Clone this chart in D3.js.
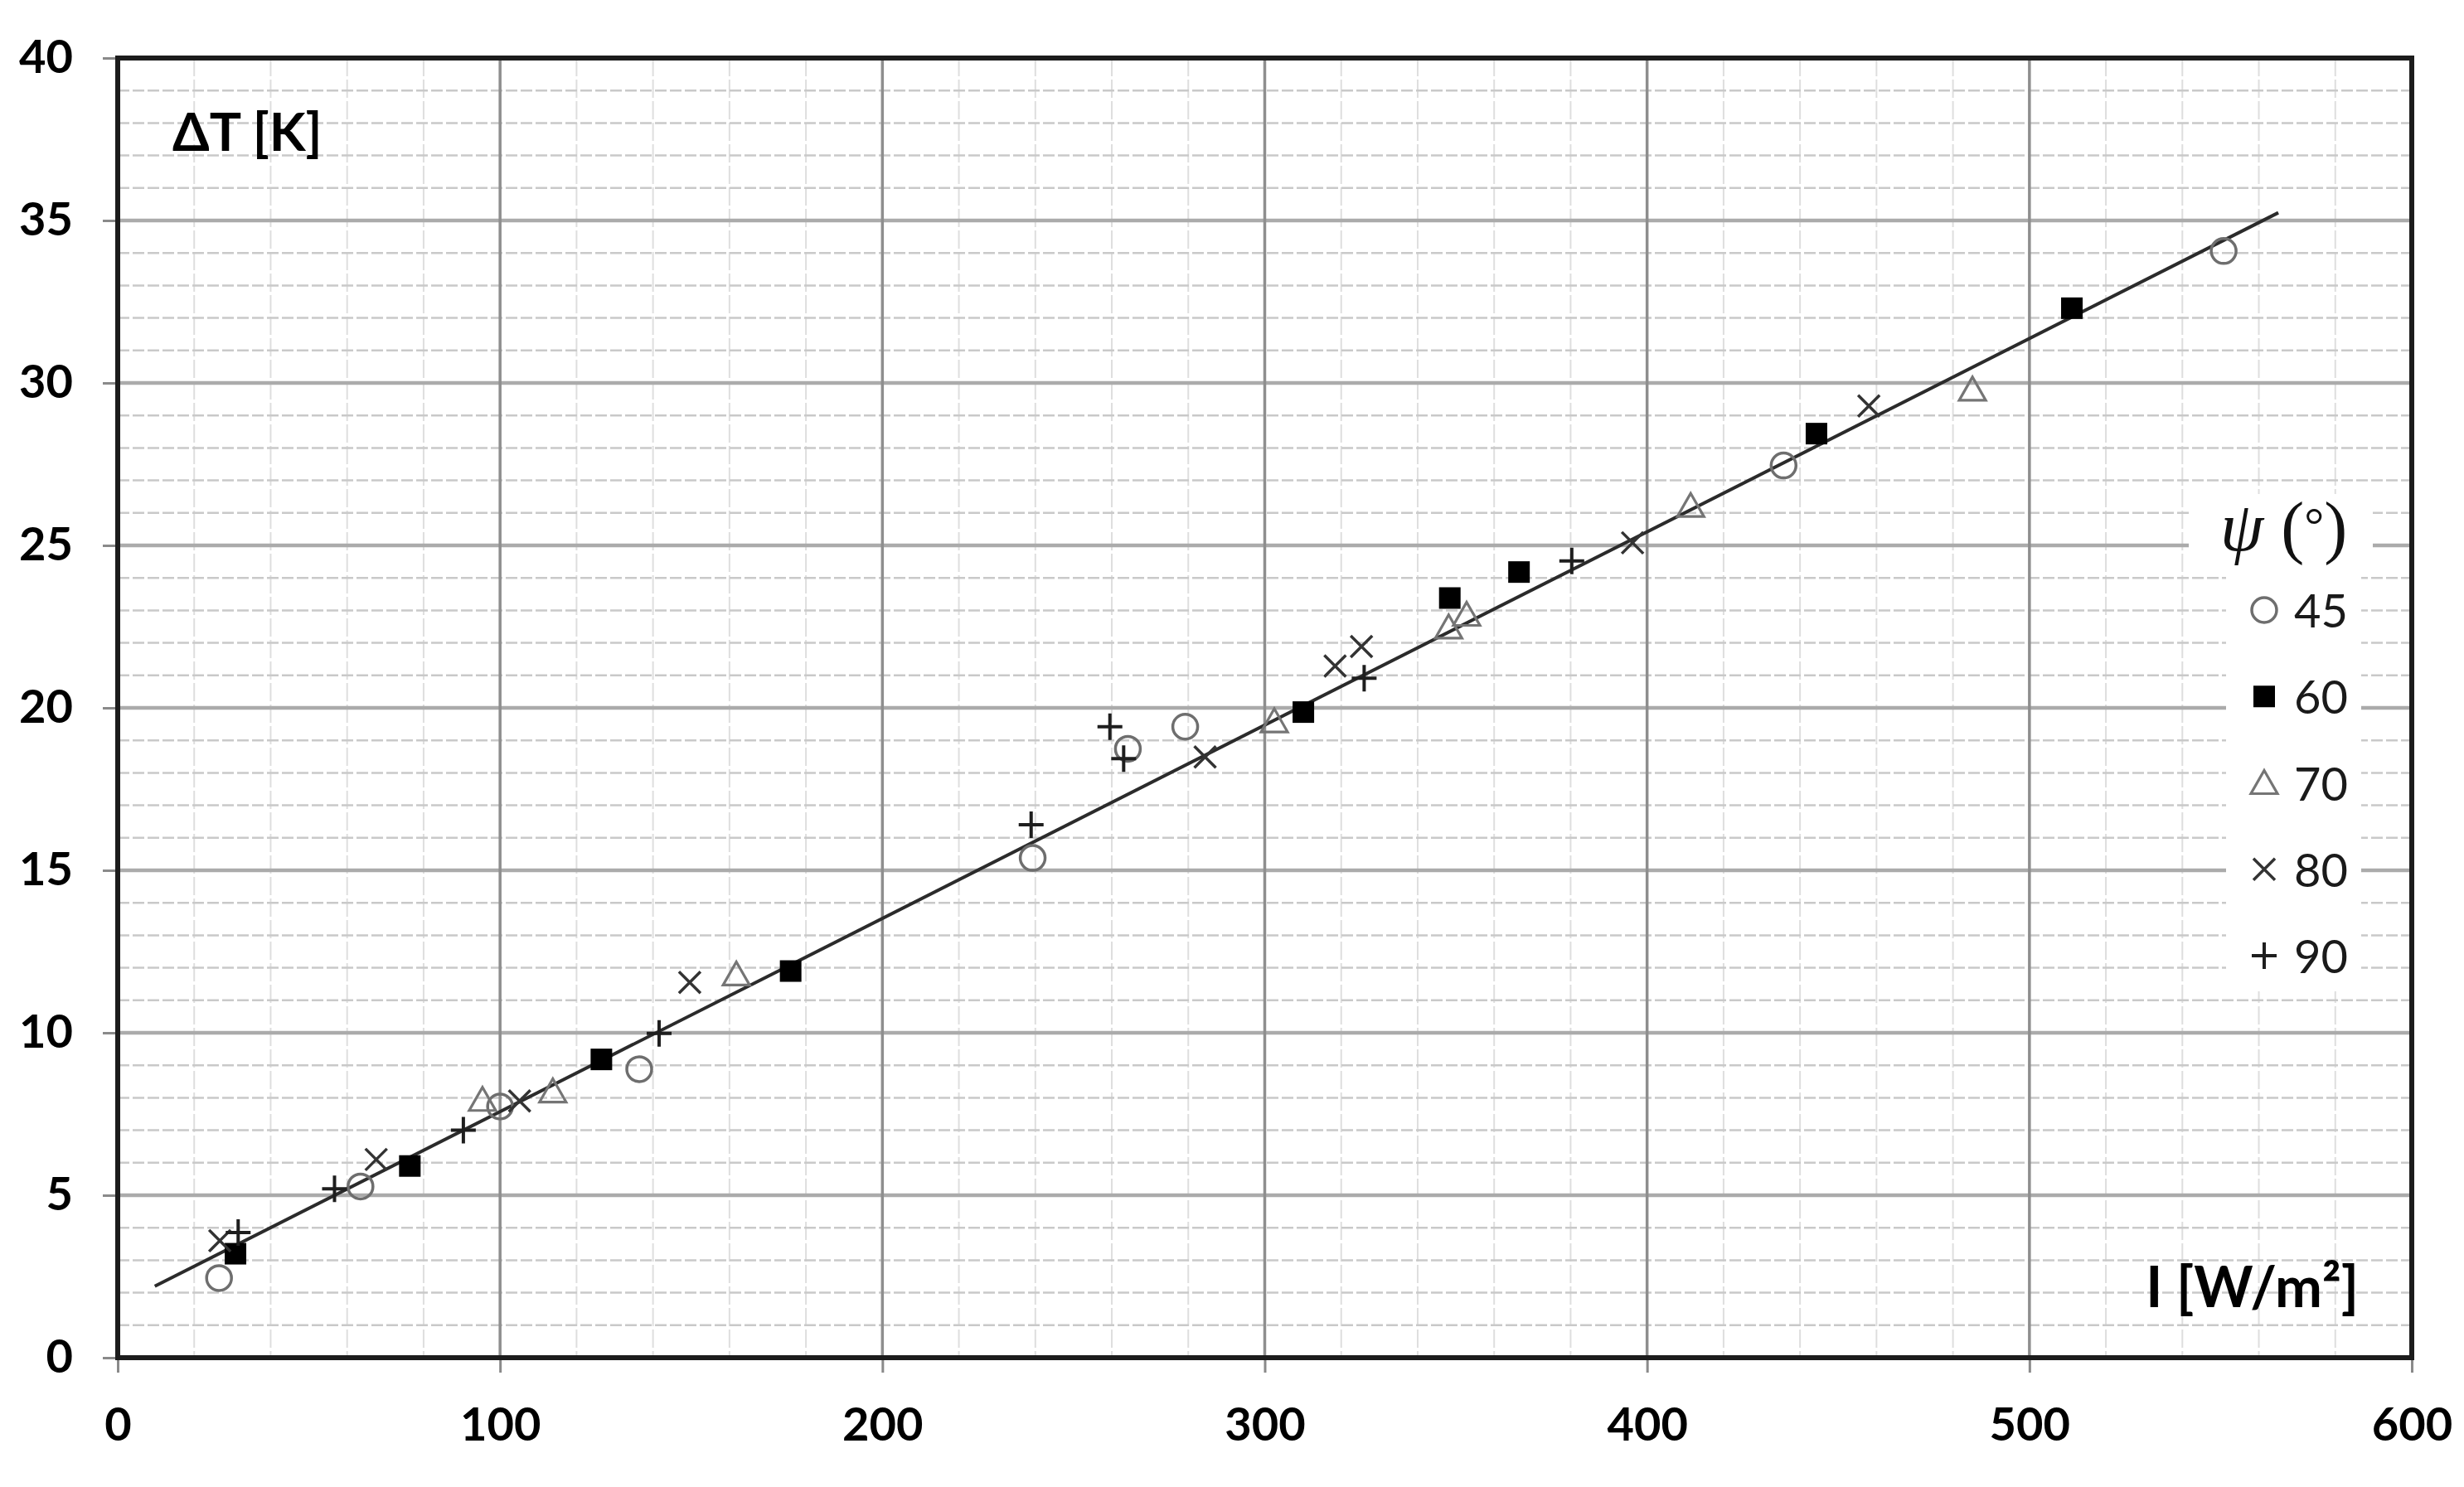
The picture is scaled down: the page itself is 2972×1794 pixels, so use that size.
<!DOCTYPE html>
<html>
<head>
<meta charset="utf-8">
<script src="https://cdn.jsdelivr.net/npm/d3@7"></script>
<style>
  html, body { margin: 0; padding: 0; background: #ffffff; }
  svg { display: block; }
</style>
</head>
<body>
<svg id="chart" width="2972" height="1794"></svg>
<script>
// ---------------- data ----------------
const xTicks = [0, 100, 200, 300, 400, 500, 600];
const yTicks = [0, 5, 10, 15, 20, 25, 30, 35, 40];
const legendLabels = ["45", "60", "70", "80", "90"];

// psi = 45 deg (open circles) : [I, dT]
const psi45 = [[26.5, 2.45], [63.5, 5.27], [100, 7.73], [136.4, 8.88], [239.3, 15.38], [264.2, 18.74], [279.2, 19.42], [435.7, 27.46], [550.8, 34.06]];
// psi = 60 deg (filled squares)
const psi60 = [[30.8, 3.2], [76.4, 5.9], [126.5, 9.18], [176, 11.9], [310.1, 19.87], [348.4, 23.38], [366.5, 24.18], [444.3, 28.44], [511.1, 32.3]];
// psi = 70 deg (open triangles)
const psi70 = [[95.4, 7.94], [113.8, 8.2], [161.8, 11.8], [302.5, 19.59], [348.1, 22.48], [352.8, 22.87], [411.4, 26.22], [485.1, 29.8]];
// psi = 80 deg (crosses x)
const psi80 = [[26.7, 3.6], [67.6, 6.1], [105.1, 7.9], [149.6, 11.55], [284.4, 18.49], [318.4, 21.29], [325.3, 21.89], [396.2, 25.08], [458, 29.29]];
// psi = 90 deg (plus)
const psi90 = [[31.5, 3.85], [56.7, 5.2], [90.4, 7.0], [141.6, 9.98], [238.9, 16.4], [259.5, 19.42], [263.1, 18.44], [326, 20.91], [380.3, 24.52]];

// linear trend line end points
const trendI = [9.7, 565.1];
const trendDT = [2.2, 35.24];

// ---------------- layout ----------------
const L = 142, R = 2909, T = 70, B = 1638;
const svg = d3.select("#chart");
svg.append("rect").attr("width", 2972).attr("height", 1794).attr("fill", "#fff");

const x = d3.scaleLinear().domain([0, 600]).range([L, R]);
const y = d3.scaleLinear().domain([0, 40]).range([B, T]);

const minorX = d3.range(0, 601, 20).filter(v => v % 100 !== 0);
const minorY = d3.range(0, 41, 1).filter(v => v % 5 !== 0);

const grid = svg.append("g");
// minor vertical
grid.selectAll(".mvx").data(minorX).join("line")
  .attr("x1", d => x(d)).attr("x2", d => x(d)).attr("y1", T).attr("y2", B)
  .attr("stroke", "#dedede").attr("stroke-width", 2).attr("stroke-dasharray", "22,4");
// minor horizontal (dashed)
grid.selectAll(".mhy").data(minorY).join("line")
  .attr("x1", L).attr("x2", R).attr("y1", d => y(d)).attr("y2", d => y(d))
  .attr("stroke", "#c9c9c9").attr("stroke-width", 2.5).attr("stroke-dasharray", "14,4");
// major horizontal
grid.selectAll(".Mhy").data(yTicks.filter(v => v > 0 && v < 40)).join("line")
  .attr("x1", L).attr("x2", R).attr("y1", d => y(d)).attr("y2", d => y(d))
  .attr("stroke", "#ababab").attr("stroke-width", 4.5);
// major vertical
grid.selectAll(".Mvx").data(xTicks.filter(v => v > 0 && v < 600)).join("line")
  .attr("x1", d => x(d)).attr("x2", d => x(d)).attr("y1", T).attr("y2", B)
  .attr("stroke", "#8e8e8e").attr("stroke-width", 3.5);

// legend backgrounds (cover gridlines)
svg.append("rect").attr("x", 2640).attr("y", 596).attr("width", 222).attr("height", 90).attr("fill", "#fff");
svg.append("rect").attr("x", 2685).attr("y", 686).attr("width", 163).attr("height", 510).attr("fill", "#fff");

// axes
const xAxis = d3.axisBottom(x).tickValues(xTicks).tickSize(18).tickPadding(42).tickFormat(d3.format("d"));
const yAxis = d3.axisLeft(y).tickValues(yTicks).tickSize(18).tickPadding(36).tickFormat(d3.format("d"));

const gx = svg.append("g").attr("transform", `translate(0,${B})`).call(xAxis);
const gy = svg.append("g").attr("transform", `translate(${L},0)`).call(yAxis);
[gx, gy].forEach(g => {
  g.select(".domain").remove();
  g.selectAll(".tick line").attr("stroke", "#8a8a8a").attr("stroke-width", 3);
  g.selectAll(".tick text")
    .attr("fill", "#000")
    .style("font-family", "Lato, 'Open Sans', sans-serif")
    .style("font-weight", "700")
    .style("font-size", "56px");
});

// frame
svg.append("rect").attr("x", L).attr("y", T).attr("width", R - L).attr("height", B - T)
  .attr("fill", "none").attr("stroke", "#1c1c1c").attr("stroke-width", 6);

// axis titles
svg.append("text").attr("x", 208).attr("y", 182)
  .style("font-family", "Lato, 'Open Sans', sans-serif").style("font-weight", "700").style("font-size", "64px")
  .attr("fill", "#000").text("ΔT [K]");
svg.append("text").attr("x", 2845).attr("y", 1577).attr("text-anchor", "end")
  .style("font-family", "Lato, 'Open Sans', sans-serif").style("font-weight", "700").style("font-size", "68px")
  .attr("fill", "#000").text("I [W/m²]");

// trend line
const line = d3.line().x(d => x(d[0])).y(d => y(d[1]));
svg.append("path").datum(trendI.map((v, i) => [v, trendDT[i]]))
  .attr("d", line).attr("fill", "none").attr("stroke", "#2b2b2b").attr("stroke-width", 4);

// marker drawing helpers (shapes in local coords)
const markers = {
  "45": g => g.append("circle").attr("r", 15).attr("fill", "none").attr("stroke", "#6e6e6e").attr("stroke-width", 3.5),
  "60": g => g.append("rect").attr("x", -13).attr("y", -13).attr("width", 26).attr("height", 26).attr("fill", "#000"),
  "70": g => g.append("path").attr("d", "M0,-15 L16,13 L-16,13 Z").attr("fill", "none").attr("stroke", "#757575").attr("stroke-width", 3.2).attr("stroke-linejoin", "miter"),
  "80": g => g.append("path").attr("d", "M-13,-13 L13,13 M13,-13 L-13,13").attr("stroke", "#333").attr("stroke-width", 3.5),
  "90": g => g.append("path").attr("d", "M-15,0 L15,0 M0,-16 L0,16").attr("stroke", "#1e1e1e").attr("stroke-width", 4)
};
const allSeries = [["45", psi45], ["60", psi60], ["70", psi70], ["80", psi80], ["90", psi90]];
allSeries.forEach(([key, data]) => {
  const gs = svg.append("g");
  gs.selectAll("g").data(data).join("g")
    .attr("transform", d => `translate(${x(d[0])},${y(d[1])})`)
    .each(function () { markers[key](d3.select(this)); });
});

// legend
const lt = svg.append("text").attr("x", 2678).attr("y", 664)
  .style("font-family", "'Liberation Serif', 'DejaVu Serif', serif").style("font-size", "84px").attr("fill", "#111");
lt.append("tspan").style("font-style", "italic").text("ψ");
lt.append("tspan").text(" (");
lt.append("tspan").attr("dy", -10).style("font-size", "60px").text("°");
lt.append("tspan").attr("dy", 10).text(")");

const legendRows = d3.scalePoint().domain(legendLabels).range([736, 1153]);
legendLabels.forEach(k => {
  const g = svg.append("g").attr("transform", `translate(2731,${legendRows(k)})`);
  markers[k](g);
  svg.append("text").attr("x", 2767).attr("y", legendRows(k) + 21)
    .style("font-family", "Lato, 'Open Sans', sans-serif").style("font-size", "56px")
    .attr("fill", "#1a1a1a").text(k);
});
</script>
</body>
</html>
